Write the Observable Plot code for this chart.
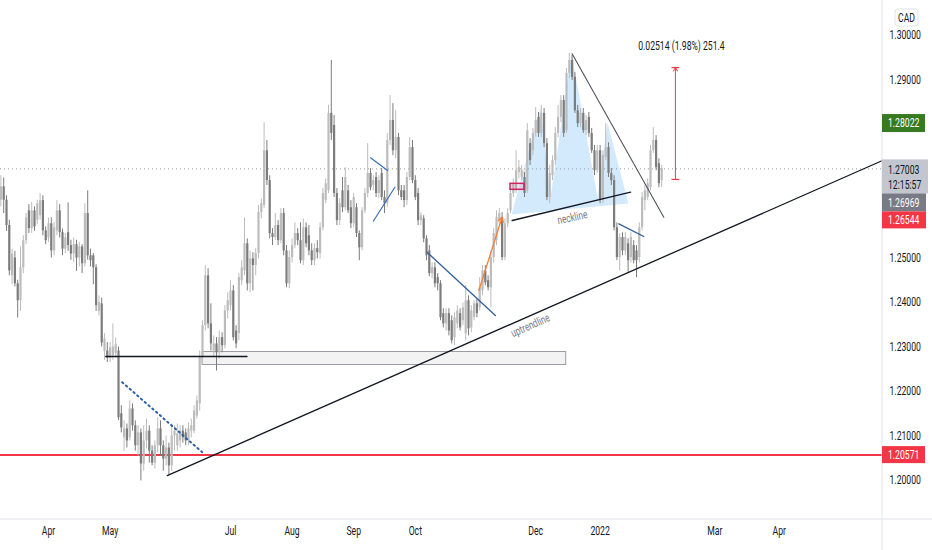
<!DOCTYPE html>
<html><head><meta charset="utf-8">
<script src="https://cdn.jsdelivr.net/npm/d3@7"></script>
<script src="https://cdn.jsdelivr.net/npm/@observablehq/plot@0.6"></script>
<style>
html,body{margin:0;padding:0;background:#fff;}
#chart{width:932px;height:550px;overflow:hidden;}
</style></head><body><div id="chart"></div>
<script>
// ---- USDCAD daily candles (bar index 0 = 1 Apr 2021, weekdays) ----
const firstBar = -17;
const open = [
1.2630,1.2660,1.2630,1.2573,1.2460,1.2500,1.2442,1.2404,1.2478,1.2539,
1.2606,1.2566,1.2606,1.2585,1.2595,1.2629,1.2561,1.2545,1.2577,1.2516,
1.2561,1.2606,1.2557,1.2520,1.2557,1.2528,1.2509,1.2530,1.2500,1.2525,
1.2487,1.2600,1.2505,1.2505,1.2478,1.2380,1.2397,1.2290,1.2291,1.2275,
1.2280,1.2285,1.2291,
1.2150,1.2096,1.2116,1.2096,1.2161,1.2123,1.2078,1.2107,1.2037,1.2089,
1.2111,1.2066,1.2039,1.2078,1.2116,1.2078,1.2048,1.2073,1.2033,1.2100,
1.2078,1.2089,1.2111,1.2107,1.2089,1.2111,1.2111,1.2145,
1.2172,1.2276,1.2348,1.2460,1.2352,1.2291,1.2307,1.2287,1.2321,1.2303,
1.2381,1.2393,1.2426,1.2336,1.2330,1.2449,1.2471,1.2532,1.2442,1.2498,
1.2483,1.2510,1.2602,1.2618,1.2741,1.2674,1.2555,1.2546,1.2573,1.2539,
1.2600,1.2516,1.2442,1.2501,1.2528,1.2555,1.2539,1.2494,1.2568,1.2550,
1.2516,1.2494,1.2521,1.2510,1.2568,1.2629,1.2651,1.2825,1.2798,1.2645,
1.2584,1.2651,1.2613,1.2651,1.2613,1.2577,1.2613,1.2555,1.2523,1.2606,
1.2645,1.2690,1.2663,1.2681,1.2645,1.2690,1.2636,1.2622,1.2764,1.2809,
1.2741,1.2771,1.2651,1.2651,1.2629,1.2681,1.2748,1.2674,1.2645,1.2584,
1.2588,1.2543,1.2516,1.2465,1.2478,1.2456,1.2442,1.2375,1.2352,1.2375,
1.2359,1.2321,1.2352,1.2375,1.2359,1.2330,1.2404,1.2343,1.2366,1.2397,
1.2388,1.2426,1.2471,1.2449,1.2433,1.2501,1.2539,1.2584,1.2591,1.2501,
1.2577,1.2606,1.2645,1.2651,1.2692,1.2681,1.2681,1.2651,1.2757,1.2741,
1.2780,1.2816,1.2780,1.2825,1.2757,1.2636,1.2685,1.2719,1.2780,1.2816,
1.2854,1.2786,1.2915,1.2944,1.2906,1.2831,1.2802,1.2825,1.2786,1.2816,
1.2780,1.2741,1.2696,1.2741,1.2629,1.2726,1.2748,1.2690,1.2674,1.2568,
1.2501,1.2546,1.2516,1.2532,1.2501,1.2528,1.2516,1.2501,1.2568,1.2629,
1.2636,1.2658,1.2741,1.2764,1.2712,1.2674];
const high = [
1.2685,1.2680,1.2640,1.2585,1.2520,1.2515,1.2450,1.2525,1.2550,1.2600,
1.2620,1.2625,1.2615,1.2630,1.2645,1.2640,1.2570,1.2590,1.2590,1.2580,
1.2629,1.2620,1.2565,1.2555,1.2624,1.2540,1.2545,1.2540,1.2535,1.2530,
1.2622,1.2651,1.2520,1.2510,1.2485,1.2415,1.2410,1.2330,1.2310,1.2310,
1.2352,1.2320,1.2300,
1.2168,1.2134,1.2127,1.2179,1.2172,1.2134,1.2123,1.2116,1.2123,1.2138,
1.2123,1.2078,1.2089,1.2141,1.2134,1.2089,1.2100,1.2084,1.2127,1.2123,
1.2127,1.2123,1.2123,1.2116,1.2130,1.2138,1.2168,1.2190,
1.2291,1.2359,1.2483,1.2476,1.2397,1.2325,1.2321,1.2336,1.2332,1.2393,
1.2422,1.2449,1.2438,1.2348,1.2465,1.2494,1.2590,1.2543,1.2516,1.2512,
1.2521,1.2618,1.2633,1.2804,1.2764,1.2685,1.2566,1.2600,1.2584,1.2611,
1.2611,1.2528,1.2516,1.2543,1.2579,1.2566,1.2579,1.2588,1.2579,1.2573,
1.2532,1.2532,1.2539,1.2579,1.2656,1.2678,1.2843,1.2944,1.2820,1.2656,
1.2633,1.2681,1.2703,1.2663,1.2629,1.2645,1.2622,1.2561,1.2613,1.2656,
1.2757,1.2701,1.2685,1.2692,1.2685,1.2701,1.2651,1.2780,1.2865,1.2847,
1.2831,1.2780,1.2663,1.2663,1.2692,1.2771,1.2764,1.2685,1.2656,1.2602,
1.2595,1.2550,1.2528,1.2489,1.2489,1.2465,1.2449,1.2386,1.2386,1.2386,
1.2370,1.2377,1.2393,1.2386,1.2399,1.2438,1.2415,1.2393,1.2404,1.2408,
1.2456,1.2483,1.2483,1.2460,1.2516,1.2566,1.2606,1.2611,1.2602,1.2588,
1.2611,1.2656,1.2678,1.2741,1.2719,1.2708,1.2692,1.2802,1.2768,1.2791,
1.2838,1.2827,1.2843,1.2836,1.2768,1.2708,1.2730,1.2793,1.2843,1.2865,
1.2865,1.2926,1.2960,1.2955,1.2917,1.2843,1.2836,1.2836,1.2820,1.2827,
1.2791,1.2753,1.2753,1.2753,1.2741,1.2802,1.2759,1.2701,1.2685,1.2579,
1.2555,1.2557,1.2557,1.2543,1.2557,1.2539,1.2528,1.2579,1.2647,1.2663,
1.2678,1.2753,1.2793,1.2775,1.2723,1.2708];
const low = [
1.2615,1.2600,1.2560,1.2460,1.2440,1.2435,1.2365,1.2380,1.2465,1.2530,
1.2555,1.2555,1.2560,1.2575,1.2585,1.2550,1.2530,1.2535,1.2500,1.2505,
1.2550,1.2545,1.2505,1.2510,1.2515,1.2495,1.2490,1.2470,1.2480,1.2465,
1.2480,1.2495,1.2480,1.2440,1.2380,1.2370,1.2300,1.2270,1.2265,1.2265,
1.2270,1.2275,1.2135,
1.2107,1.2066,1.2073,1.2089,1.2111,1.2066,1.2055,1.1999,1.2021,1.2071,
1.2039,1.2033,1.2026,1.2062,1.2055,1.2021,1.2033,1.2012,1.2021,1.2066,
1.2066,1.2073,1.2084,1.2078,1.2078,1.2096,1.2105,1.2138,
1.2156,1.2264,1.2336,1.2341,1.2291,1.2276,1.2246,1.2273,1.2287,1.2296,
1.2363,1.2381,1.2314,1.2296,1.2314,1.2438,1.2460,1.2426,1.2422,1.2426,
1.2460,1.2498,1.2588,1.2611,1.2663,1.2543,1.2528,1.2539,1.2528,1.2532,
1.2505,1.2433,1.2431,1.2489,1.2521,1.2528,1.2487,1.2483,1.2523,1.2505,
1.2483,1.2483,1.2498,1.2498,1.2561,1.2622,1.2645,1.2764,1.2636,1.2573,
1.2573,1.2602,1.2606,1.2600,1.2566,1.2568,1.2546,1.2494,1.2516,1.2600,
1.2636,1.2651,1.2651,1.2636,1.2633,1.2629,1.2600,1.2613,1.2753,1.2730,
1.2723,1.2640,1.2629,1.2613,1.2618,1.2674,1.2667,1.2629,1.2573,1.2573,
1.2534,1.2494,1.2458,1.2453,1.2433,1.2426,1.2359,1.2343,1.2336,1.2325,
1.2307,1.2303,1.2341,1.2336,1.2348,1.2314,1.2325,1.2332,1.2359,1.2366,
1.2381,1.2415,1.2438,1.2426,1.2388,1.2489,1.2528,1.2573,1.2494,1.2494,
1.2568,1.2600,1.2636,1.2645,1.2678,1.2674,1.2636,1.2645,1.2708,1.2730,
1.2771,1.2771,1.2771,1.2748,1.2629,1.2622,1.2674,1.2708,1.2771,1.2804,
1.2771,1.2780,1.2903,1.2899,1.2825,1.2793,1.2793,1.2780,1.2775,1.2771,
1.2735,1.2685,1.2690,1.2622,1.2622,1.2719,1.2681,1.2663,1.2561,1.2494,
1.2471,1.2505,1.2505,1.2465,1.2489,1.2487,1.2456,1.2489,1.2561,1.2606,
1.2629,1.2651,1.2735,1.2696,1.2658,1.2658];
const close = [
1.2660,1.2630,1.2573,1.2471,1.2509,1.2442,1.2404,1.2478,1.2539,1.2590,
1.2566,1.2606,1.2570,1.2622,1.2629,1.2561,1.2539,1.2577,1.2516,1.2568,
1.2606,1.2557,1.2520,1.2545,1.2528,1.2509,1.2530,1.2500,1.2525,1.2487,
1.2600,1.2505,1.2494,1.2478,1.2393,1.2400,1.2309,1.2318,1.2275,1.2298,
1.2300,1.2305,1.2141,
1.2118,1.2116,1.2089,1.2161,1.2123,1.2078,1.2107,1.2037,1.2089,1.2111,
1.2066,1.2039,1.2078,1.2116,1.2078,1.2048,1.2073,1.2033,1.2100,1.2111,
1.2105,1.2111,1.2096,1.2089,1.2116,1.2123,1.2156,1.2179,
1.2276,1.2348,1.2460,1.2352,1.2307,1.2307,1.2287,1.2321,1.2303,1.2381,
1.2404,1.2426,1.2321,1.2307,1.2456,1.2478,1.2532,1.2442,1.2498,1.2483,
1.2510,1.2602,1.2622,1.2741,1.2674,1.2555,1.2546,1.2573,1.2539,1.2600,
1.2516,1.2442,1.2501,1.2528,1.2555,1.2539,1.2494,1.2568,1.2532,1.2516,
1.2494,1.2521,1.2512,1.2568,1.2645,1.2667,1.2825,1.2780,1.2645,1.2584,
1.2622,1.2613,1.2681,1.2606,1.2577,1.2636,1.2555,1.2523,1.2606,1.2645,
1.2690,1.2658,1.2674,1.2645,1.2674,1.2636,1.2622,1.2764,1.2809,1.2741,
1.2771,1.2651,1.2636,1.2629,1.2681,1.2748,1.2674,1.2636,1.2584,1.2595,
1.2543,1.2505,1.2465,1.2478,1.2442,1.2442,1.2366,1.2352,1.2375,1.2336,
1.2314,1.2366,1.2381,1.2343,1.2388,1.2404,1.2341,1.2381,1.2397,1.2375,
1.2433,1.2471,1.2444,1.2433,1.2501,1.2555,1.2591,1.2600,1.2501,1.2577,
1.2600,1.2645,1.2667,1.2696,1.2703,1.2696,1.2645,1.2786,1.2719,1.2780,
1.2809,1.2780,1.2825,1.2757,1.2636,1.2690,1.2719,1.2780,1.2816,1.2854,
1.2780,1.2915,1.2944,1.2906,1.2831,1.2802,1.2825,1.2786,1.2809,1.2780,
1.2741,1.2696,1.2741,1.2629,1.2730,1.2748,1.2690,1.2674,1.2568,1.2501,
1.2546,1.2516,1.2546,1.2494,1.2546,1.2494,1.2494,1.2568,1.2636,1.2651,
1.2667,1.2741,1.2764,1.2703,1.2667,1.2701];

// ---- axes ----
const monthLabels = ["Apr","May","Jul","Aug","Sep","Oct","Dec","2022","Mar","Apr"];
const monthBars   = [0, 22, 65, 87, 109, 131, 174, 197, 238, 261];
const priceTicks  = [1.30, 1.29, 1.25, 1.24, 1.23, 1.22, 1.21, 1.20];
const xDomain = [-17.143, 297.857];
const yDomain = [1.19124, 1.30787];

// ---- price tags ----
const lastPrice = 1.27003;
const countdown = "12:15:57";
const highTag = 1.28022;
const bidTag = 1.26969;
const lowTag = 1.26544;
const supportLevel = 1.20571;
const currency = "CAD";

// ---- drawings (bar index, price) ----
const uptrend     = [[42.4, 1.20112], [297.86, 1.27191]];
const supportLine = [[20.4, 1.22787], [70.9, 1.22787]];
const rangeBox    = {x1: 55.0, x2: 184.9, y1: 1.22596, y2: 1.22888};
const dottedLine  = [[26.3, 1.22209], [54.9, 1.20636]];
const flagTop     = [[115.0, 1.27252], [121.1, 1.26966]];
const flagBottom  = [[116.0, 1.25827], [123.7, 1.26591]];
const octLine     = [[135.2, 1.25130], [159.6, 1.23708]];
const orangeArrow = {x1: 153.7, y1: 1.24270, x2: 162.0, y2: 1.25917};
const pinkBox     = {x1: 165.0, x2: 170.0, y1: 1.26533, y2: 1.26667};
const neckline    = [[165.6, 1.25843], [207.9, 1.26479]];
// head & shoulders: start, left shoulder, trough, head, trough, right shoulder, end
const headShoulders = [[165.4, 1.25978], [175.7, 1.28382], [179.3, 1.26360], [186.8, 1.29596],
                       [196.1, 1.26360], [199.6, 1.28045], [207.1, 1.26225]];
const downtrend   = [[187.0, 1.29589], [219.75, 1.25917]];
const janLine     = [[203.7, 1.25769], [212.6, 1.25483]];
const measure     = {bar: 223.9, y1: 1.26766, y2: 1.29280, label: "0.02514 (1.98%) 251.4"};
const notes = [
  {x: 187.1, y: 1.25910, text: "neckline", rotate: -12},
  {x: 172.1, y: 1.23483, text: "uptrendline", rotate: -24}
];

const candles = open.map((o, k) => ({i: firstBar + k, open: o, high: high[k], low: low[k], close: close[k]}));
const upC = candles.filter(d => d.close >= d.open);
const dnC = candles.filter(d => d.close < d.open);
const UP = "#bcbcbc", DN = "#7c7c7c";
const seg = (pts, o) => Plot.line(pts, {x: d => d[0], y: d => d[1], ...o});

const chart = Plot.plot({
  width: 932, height: 550,
  marginLeft: 0, marginRight: 50, marginTop: 0, marginBottom: 31,
  x: {type: "linear", domain: xDomain, axis: null},
  y: {domain: yDomain, axis: null},
  style: {background: "#fff", fontFamily: "Roboto, 'DejaVu Sans', sans-serif", overflow: "visible"},
  marks: [
    Plot.rect([rangeBox], {x1: "x1", x2: "x2", y1: "y1", y2: "y2", fill: "#f3f3f4", stroke: "#9a9da6", strokeWidth: 1}),
    seg(headShoulders, {fill: "rgba(33,150,243,0.2)", stroke: "none"}),
    Plot.ruleY([supportLevel], {stroke: "#f23645", strokeWidth: 2}),
    Plot.ruleY([lastPrice], {stroke: "#9598a1", strokeDasharray: "1,3", strokeWidth: 1}),
    Plot.ruleX(upC, {x: "i", y1: "low", y2: "high", stroke: UP, strokeWidth: 1}),
    Plot.ruleX(dnC, {x: "i", y1: "low", y2: "high", stroke: DN, strokeWidth: 1}),
    Plot.ruleX(upC, {x: "i", y1: "open", y2: "close", stroke: UP, strokeWidth: 2.2}),
    Plot.ruleX(dnC, {x: "i", y1: "open", y2: "close", stroke: DN, strokeWidth: 2.2}),
    seg(uptrend, {stroke: "#131722", strokeWidth: 1.3}),
    seg(supportLine, {stroke: "#131722", strokeWidth: 1.3}),
    seg(dottedLine, {stroke: "#2a5fa8", strokeWidth: 2, strokeDasharray: "1.5,3.5", strokeLinecap: "round"}),
    seg(flagTop, {stroke: "#3a70b8", strokeWidth: 1.2}),
    seg(flagBottom, {stroke: "#3a70b8", strokeWidth: 1.2}),
    seg(octLine, {stroke: "#2f5f98", strokeWidth: 1.3}),
    Plot.arrow([orangeArrow], {x1: "x1", y1: "y1", x2: "x2", y2: "y2", stroke: "#f0803c", strokeWidth: 1.3, headLength: 6}),
    Plot.rect([pinkBox], {x1: "x1", x2: "x2", y1: "y1", y2: "y2", fill: "rgba(233,30,99,0.12)", stroke: "#d0235f", strokeWidth: 1.5}),
    seg(neckline, {stroke: "#131722", strokeWidth: 1.3}),
    seg(downtrend, {stroke: "#50535e", strokeWidth: 1.1}),
    seg(janLine, {stroke: "#2f5f98", strokeWidth: 1.3}),
    Plot.arrow([measure], {x1: "bar", x2: "bar", y1: "y1", y2: "y2", stroke: "#f23645", strokeWidth: 1, headLength: 6}),
    Plot.link([measure], {x1: d => d.bar - 1.4, x2: d => d.bar + 1.4, y1: "y1", y2: "y1", stroke: "#f23645", strokeWidth: 1.2}),
    Plot.link([measure], {x1: d => d.bar - 1.4, x2: d => d.bar + 1.4, y1: "y2", y2: "y2", stroke: "#f23645", strokeWidth: 1.2}),
    Plot.text([measure], {x: "bar", y: "y2", text: "label", dx: 6, dy: -21, fontSize: 12, fill: "#131722"}),
    Plot.text(notes, {x: "x", y: "y", text: "text", rotate: "rotate", fontSize: 11.5, fill: "#787b86"}),
    Plot.text(priceTicks, {y: d => d, frameAnchor: "right", text: d => d.toFixed(5), dx: 7, textAnchor: "start", fontSize: 12, fill: "#131722"}),
    Plot.text(monthBars, {x: d => d, frameAnchor: "bottom", dy: 15, text: (d, k) => monthLabels[k], fontSize: 12, fill: "#131722"})
  ]
});
document.getElementById("chart").append(chart);

const svg = d3.select(chart);
const xs = chart.scale("x"), ys = chart.scale("y");
const right = xs.apply(xDomain[1]);
const bottom = ys.apply(yDomain[0]);
svg.append("line").attr("x1", right).attr("x2", right).attr("y1", 0).attr("y2", 550).attr("stroke", "#e0e3eb");
svg.append("line").attr("x1", 0).attr("x2", 932).attr("y1", bottom).attr("y2", bottom).attr("stroke", "#e0e3eb");

// the reference is horizontally condensed: narrow every Plot text the same way
const SQUEEZE = 0.72;
svg.selectAll("text").each(function() {
  const L = this.getComputedTextLength();
  if (L > 0) {
    this.setAttribute("textLength", (L * SQUEEZE).toFixed(2));
    this.setAttribute("lengthAdjust", "spacingAndGlyphs");
  }
});

const tags = svg.append("g").attr("font-family", "Roboto, 'DejaVu Sans', sans-serif").attr("font-size", 12);
function label(t, x, y, color, anchor) {
  tags.append("text").attr("x", 0).attr("y", 0).attr("dy", "0.35em").attr("text-anchor", anchor || "start")
    .attr("transform", `translate(${x},${y}) scale(${SQUEEZE},1)`).attr("fill", color).text(t);
}
function tag(top, h, w, fill, color, lines) {
  tags.append("rect").attr("x", right).attr("y", top).attr("width", w).attr("height", h).attr("fill", fill);
  lines.forEach(([t, yy]) => label(t, right + 6, yy, color));
}
const yh = ys.apply(highTag);
tag(yh - 9, 18, 43, "#387a22", "#fff", [[highTag.toFixed(5), yh]]);
const yc = ys.apply(lastPrice);
tag(yc - 9, 34, 46, "#c3c6ce", "#131722", [[lastPrice.toFixed(5), yc + 1], [countdown, yc + 16]]);
tag(yc + 25, 18, 44, "#787b86", "#fff", [[bidTag.toFixed(5), yc + 34]]);
tag(yc + 43, 17, 44, "#f23645", "#fff", [[lowTag.toFixed(5), yc + 51.5]]);
const ys2 = ys.apply(supportLevel);
tag(ys2 - 8.5, 17, 43, "#f23645", "#fff", [[supportLevel.toFixed(5), ys2]]);
tags.append("rect").attr("x", right + 13).attr("y", 9).attr("width", 23).attr("height", 17).attr("rx", 3)
  .attr("fill", "#fff").attr("stroke", "#e0e3eb");
label(currency, right + 24.5, 17.5, "#131722", "middle");
</script>
</body></html>
